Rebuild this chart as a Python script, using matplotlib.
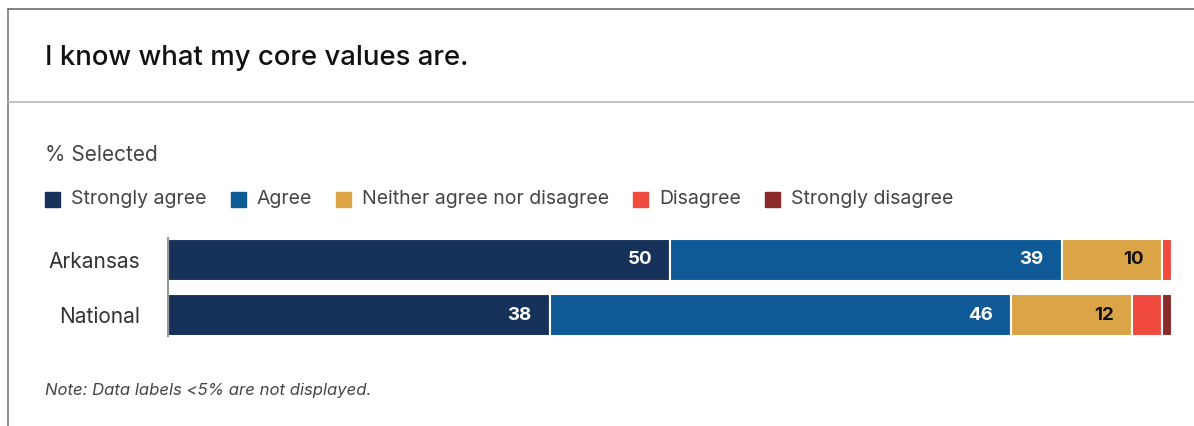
import matplotlib
matplotlib.use("Agg")
import matplotlib.pyplot as plt
from matplotlib.patches import Rectangle
from matplotlib.lines import Line2D
import numpy as np

plt.rcParams['font.family'] = ['Inter', 'DejaVu Sans']

title = "I know what my core values are."
subtitle = "% Selected"
note = "Note: Data labels <5% are not displayed."
groups = ["Arkansas", "National"]
categories = ["Strongly agree", "Agree", "Neither agree nor disagree", "Disagree", "Strongly disagree"]
strongly_agree = [50, 38]
agree = [39, 46]
neither = [10, 12]
disagree = [1, 3]
strongly_disagree = [0, 1]
colors = ["#16325a", "#0f5a96", "#dba447", "#f04a3f", "#8a2a2a"]
label_colors = ["white", "white", "#111111", "#111111", "white"]

series = [strongly_agree, agree, neither, disagree, strongly_disagree]

W, H = 1194, 426
fig = plt.figure(figsize=(W / 100, H / 100), dpi=100)
renderer = fig.canvas.get_renderer()

def fx(px):
    return px / W

def fy(py):
    return 1 - py / H

# Frame lines
fig.add_artist(Line2D([fx(8), 1], [fy(9), fy(9)], color="#6b6b6b", lw=1.2))
fig.add_artist(Line2D([fx(8), fx(8)], [fy(9), 0], color="#7a7a7a", lw=1.2))
fig.add_artist(Line2D([fx(8), 1], [fy(102), fy(102)], color="#b8b8b8", lw=1.2))

fig.text(fx(45), fy(58), title, fontsize=19.8, color="#111111", va="center", ha="left", fontweight="medium")
fig.text(fx(45), fy(155), subtitle, fontsize=15, color="#444444", va="center", ha="left")
fig.text(fx(45), fy(391), note, fontsize=12, color="#444444", va="center", ha="left", style="italic")

# Legend, items laid out one after another
x = 45
for lab, c in zip(categories, colors):
    fig.add_artist(Rectangle((fx(x), fy(207)), fx(15), 15 / H, color=c, transform=fig.transFigure))
    t = fig.text(fx(x + 26), fy(199), lab, fontsize=14, color="#444444", va="center", ha="left")
    bb = t.get_window_extent(renderer=renderer)
    x = x + 26 + bb.width + 24

ax = fig.add_axes([fx(168), fy(342.5), fx(1004), 110 / H])
y = np.arange(len(groups))
left = np.zeros(len(groups))
for vals, c, lc in zip(series, colors, label_colors):
    vals = np.array(vals, dtype=float)
    ax.barh(y, vals, left=left, height=0.76, color=c, edgecolor="white", linewidth=1.5)
    for yi, v, l in zip(y, vals, left):
        if v >= 5:
            ax.text(l + v - 1.8, yi, f"{int(v)}", ha="right", va="center",
                    color=lc, fontsize=13.5, fontweight="bold")
    left += vals

ax.set_xlim(0, 100)
ax.set_ylim(1.5, -0.5)
ax.set_yticks(y)
ax.set_yticklabels(groups, fontsize=15, color="#333333")
ax.tick_params(axis="y", length=0, pad=20)
ax.set_xticks([])
for s in ["top", "right", "bottom"]:
    ax.spines[s].set_visible(False)
ax.spines["left"].set_bounds(-0.4, 1.38)
ax.spines["left"].set_color("#999999")
ax.spines["left"].set_linewidth(1.5)
ax.set_facecolor("none")

fig.savefig("out.png", dpi=100)
